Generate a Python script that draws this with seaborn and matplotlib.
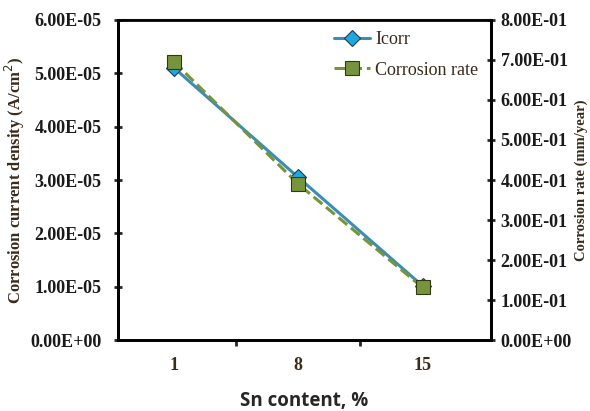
import seaborn as sns
import matplotlib.pyplot as plt
import pandas as pd

# data
sn_content = ["1", "8", "15"]
icorr = [5.1e-5, 3.05e-5, 1.02e-5]
corrosion_rate = [0.695, 0.39, 0.132]

sns.set_style("white")
plt.rcParams['font.family'] = ['Liberation Serif', 'DejaVu Serif']

df = pd.DataFrame({'pos': range(len(sn_content)), 'icorr': icorr, 'rate': corrosion_rate})

fig, ax = plt.subplots(figsize=(5.9, 4.11), dpi=100)
plt.subplots_adjust(left=0.2, right=0.832, bottom=0.172, top=0.952)
ax2 = ax.twinx()

sns.lineplot(data=df, x='pos', y='icorr', ax=ax, color='#3a8db3', linewidth=2.2,
             marker='D', markersize=8, markerfacecolor='#1fa8e0',
             markeredgecolor='#1f3b57', markeredgewidth=0.8, label='Icorr', legend=False)
sns.lineplot(data=df, x='pos', y='rate', ax=ax2, color='#77933c', linewidth=2.2,
             linestyle='--', marker='s', markersize=10, markerfacecolor='#77933c',
             markeredgecolor='#2d3a14', markeredgewidth=0.8, label='Corrosion rate', legend=False)

ax.set_xlim(-0.45, 2.55)
ax.set_ylim(0, 6e-5)
ax2.set_ylim(0, 0.8)
ax.set_xticks(range(len(sn_content)))
ax.set_xticklabels(sn_content)
ax.set_xticks([0.5, 1.5], minor=True)
ax.set_yticks([i * 1e-5 for i in range(7)])
ax.set_yticklabels(['%.2fE-05' % i if i else '0.00E+00' for i in range(7)])
ax2.set_yticks([i * 0.1 for i in range(9)])
ax2.set_yticklabels(['%.2fE-01' % i if i else '0.00E+00' for i in range(9)])

for a, pad in ((ax, 9), (ax2, 4)):
    for s in a.spines.values():
        s.set_linewidth(2)
        s.set_color('black')
    a.tick_params(axis='y', which='major', direction='inout', length=6, width=2,
                  labelsize=13, pad=pad)
    for lbl in a.get_yticklabels():
        lbl.set_fontweight('bold')
        lbl.set_color('#1a1a1a')
ax.spines['top'].set_color('#555555')
ax.spines['top'].set_linewidth(1.5)
ax.tick_params(axis='x', which='major', direction='out', length=5, width=3,
               labelsize=13, pad=7)
ax.tick_params(axis='x', which='minor', direction='out', length=4, width=2, bottom=True)
for lbl in ax.get_xticklabels():
    lbl.set_fontweight('bold')
    lbl.set_color('#3a2a1a')

ax.set_xlabel('Sn content, %', fontsize=13.5, fontweight='bold',
              family=['Open Sans', 'DejaVu Sans'], labelpad=12)
ax.set_ylabel('Corrosion current density (A/cm$^2$)', fontsize=12, fontweight='bold',
              color='#3a2a1a', labelpad=2)
ax2.set_ylabel('Corrosion rate (mm/year)', fontsize=10.5, fontweight='bold',
               color='#3a2a1a', labelpad=2)

h1, l1 = ax.get_legend_handles_labels()
h2, l2 = ax2.get_legend_handles_labels()
leg = ax2.legend(h1 + h2, l1 + l2, loc='upper right', frameon=False, fontsize=13,
                 bbox_to_anchor=(1.01, 1.015), handlelength=2.0, handletextpad=0.3,
                 labelspacing=0.75)
for t in leg.get_texts():
    t.set_color('#3a2a1a')

fig.savefig('out.png', dpi=100)
